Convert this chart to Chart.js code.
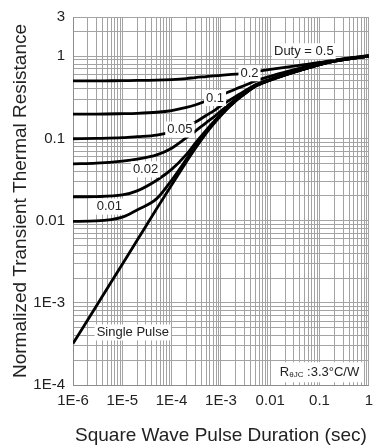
<!DOCTYPE html>
<html>
<head>
<meta charset="utf-8">
<script src="https://cdn.jsdelivr.net/npm/chart.js@4/dist/chart.umd.min.js"></script>
<style>
  html, body { margin: 0; padding: 0; background: #fff; }
  #wrap { width: 380px; height: 448px; }
</style>
</head>
<body>
<div id="wrap"><canvas id="c" width="380" height="448"></canvas></div>
<script>
// Pulse durations (s) at which each curve is sampled
const pulseTimes = [1e-6, 3e-6, 1e-5, 2e-5, 5e-5, 1e-4, 2e-4, 3e-4, 5e-4, 7e-4, 1e-3,
                    2e-3, 3e-3, 5e-3, 1e-2, 2e-2, 5e-2, 0.1, 0.2, 0.5, 1];

// Normalized transient thermal resistance for each duty cycle
const duty050 = [0.50, 0.50, 0.505, 0.507, 0.512, 0.52, 0.535, 0.55, 0.565, 0.575, 0.585,
                 0.605, 0.62, 0.65, 0.69, 0.73, 0.79, 0.84, 0.90, 0.97, 1.02];
const duty020 = [0.198, 0.198, 0.20, 0.202, 0.208, 0.218, 0.238, 0.255, 0.285, 0.31, 0.335,
                 0.40, 0.44, 0.50, 0.57, 0.64, 0.74, 0.82, 0.89, 0.96, 1.01];
const duty010 = [0.099, 0.10, 0.102, 0.105, 0.11, 0.12, 0.14, 0.157, 0.19, 0.215, 0.25,
                 0.325, 0.375, 0.45, 0.525, 0.60, 0.707, 0.795, 0.875, 0.953, 1.0];
const duty005 = [0.049, 0.05, 0.053, 0.056, 0.063, 0.076, 0.102, 0.122, 0.155, 0.18, 0.215,
                 0.30, 0.358, 0.44, 0.518, 0.596, 0.703, 0.792, 0.872, 0.952, 1.0];
const duty002 = [0.0195, 0.0196, 0.0205, 0.023, 0.031, 0.042, 0.064, 0.087, 0.125, 0.157, 0.198,
                 0.292, 0.352, 0.435, 0.514, 0.593, 0.701, 0.79, 0.87, 0.95, 1.0];
const duty001 = [0.0098, 0.0099, 0.011, 0.0135, 0.0185, 0.031, 0.056, 0.08, 0.12, 0.152, 0.194,
                 0.288, 0.348, 0.432, 0.512, 0.592, 0.70, 0.79, 0.87, 0.95, 1.0];
const singlePulse = [3.2e-4, 9.2e-4, 2.95e-3, 5.76e-3, 0.014, 0.0272, 0.052, 0.075, 0.115, 0.148, 0.19,
                     0.285, 0.345, 0.43, 0.51, 0.59, 0.70, 0.79, 0.87, 0.95, 1.0];

// Axis tick labels
const xTickValues = [1e-6, 1e-5, 1e-4, 1e-3, 1e-2, 0.1, 1];
const xTickLabels = ['1E-6', '1E-5', '1E-4', '1E-3', '0.01', '0.1', '1'];
const yTickValues = [1e-4, 1e-3, 1e-2, 0.1, 1, 3];
const yTickLabels = ['1E-4', '1E-3', '0.01', '0.1', '1', '3'];

// Curve captions: text and anchor (data coordinates)
const captionTexts = ['Duty = 0.5', '0.2', '0.1', '0.05', '0.02', '0.01', 'Single Pulse'];
const captionX = [0.048, 3.8e-3, 7.6e-4, 1.47e-4, 2.96e-5, 5.45e-6, 1.63e-5];
const captionY = [1.15, 0.62, 0.31, 0.128, 0.042, 0.0148, 4.36e-4];

// Thermal resistance note in the lower right corner
const noteX = 0.1;
const noteY = 1.43e-4;
const noteMain = 'R';
const noteSub = 'θJC';
const noteRest = ' :3.3°C/W';

const FONT = '"Liberation Sans", Arial, sans-serif';
const TEXT = '#222';
const GRID = '#a3a3a3';

function gridValues(fromExp, toExp, extra) {
  const out = [];
  for (let e = fromExp; e < toExp; e++) {
    for (let m = 1; m <= 9; m++) out.push(m * Math.pow(10, e));
  }
  out.push(Math.pow(10, toExp));
  (extra || []).forEach(v => out.push(v));
  return out;
}
const xGrid = gridValues(-6, 0);
const yGrid = gridValues(-4, 0, [2, 3]);

function labelFor(v, values, labels) {
  for (let i = 0; i < values.length; i++) {
    if (Math.abs(Math.log10(v) - Math.log10(values[i])) < 1e-6) return labels[i];
  }
  return '';
}

function series(values) {
  return pulseTimes.map((t, i) => ({ x: t, y: values[i] }));
}

const curveStyle = {
  borderColor: '#000',
  borderWidth: 2.8,
  pointRadius: 0,
  fill: false,
  cubicInterpolationMode: 'monotone'
};

const captionPlugin = {
  id: 'captions',
  afterDatasetsDraw(chart) {
    const ctx = chart.ctx;
    const xs = chart.scales.x, ys = chart.scales.y;
    ctx.save();
    ctx.font = '13px ' + FONT;
    ctx.textBaseline = 'middle';
    ctx.textAlign = 'center';
    captionTexts.forEach((txt, i) => {
      const px = xs.getPixelForValue(captionX[i]);
      const py = ys.getPixelForValue(captionY[i]);
      const w = ctx.measureText(txt).width;
      ctx.fillStyle = '#fff';
      ctx.fillRect(px - w / 2 - 2, py - 8, w + 4, 16);
      ctx.fillStyle = TEXT;
      ctx.fillText(txt, px, py);
    });

    // R(theta JC) note with subscript
    const nx = xs.getPixelForValue(noteX);
    const ny = ys.getPixelForValue(noteY);
    ctx.textAlign = 'left';
    ctx.font = '13px ' + FONT;
    const wMain = ctx.measureText(noteMain).width;
    const wRest = ctx.measureText(noteRest).width;
    ctx.font = '8px ' + FONT;
    const wSub = ctx.measureText(noteSub).width;
    const total = wMain + wSub + wRest;
    const left = nx - total / 2;
    ctx.fillStyle = '#fff';
    ctx.fillRect(left - 4, ny - 10, total + 8, 20);
    ctx.fillStyle = TEXT;
    ctx.font = '13px ' + FONT;
    ctx.fillText(noteMain, left, ny);
    ctx.font = '8px ' + FONT;
    ctx.fillText(noteSub, left + wMain, ny + 3);
    ctx.font = '13px ' + FONT;
    ctx.fillText(noteRest, left + wMain + wSub, ny);
    ctx.restore();
  }
};

new Chart(document.getElementById('c'), {
  type: 'line',
  data: {
    datasets: [
      Object.assign({ label: 'D=0.5', data: series(duty050) }, curveStyle),
      Object.assign({ label: 'D=0.2', data: series(duty020) }, curveStyle),
      Object.assign({ label: 'D=0.1', data: series(duty010) }, curveStyle),
      Object.assign({ label: 'D=0.05', data: series(duty005) }, curveStyle),
      Object.assign({ label: 'D=0.02', data: series(duty002) }, curveStyle),
      Object.assign({ label: 'D=0.01', data: series(duty001) }, curveStyle),
      Object.assign({ label: 'Single Pulse', data: series(singlePulse) }, curveStyle)
    ]
  },
  options: {
    responsive: false,
    animation: false,
    devicePixelRatio: 1,
    layout: { padding: { top: 13, right: 5, left: 0, bottom: 0 } },
    plugins: { legend: { display: false }, tooltip: { enabled: false } },
    scales: {
      x: {
        type: 'logarithmic',
        min: 1e-6,
        max: 1,
        afterBuildTicks: s => { s.ticks = xGrid.map(v => ({ value: v })); },
        afterFit: s => { s.height = 63; },
        ticks: {
          autoSkip: false,
          maxRotation: 0,
          padding: 7,
          color: TEXT,
          font: { family: FONT, size: 15 },
          callback: v => labelFor(v, xTickValues, xTickLabels)
        },
        grid: { color: GRID, lineWidth: 1, drawTicks: false },
        border: { color: '#8c8c8c' },
        title: {
          display: true,
          text: 'Square Wave Pulse Duration (sec)',
          color: TEXT,
          font: { family: FONT, size: 19 },
          padding: { top: 0, bottom: 1 }
        }
      },
      y: {
        type: 'logarithmic',
        min: 1e-4,
        max: 3,
        afterBuildTicks: s => { s.ticks = yGrid.map(v => ({ value: v })); },
        afterFit: s => { s.width = 73; },
        ticks: {
          autoSkip: false,
          padding: 8,
          color: TEXT,
          font: { family: FONT, size: 15 },
          callback: v => labelFor(v, yTickValues, yTickLabels)
        },
        grid: { color: GRID, lineWidth: 1, drawTicks: false },
        border: { color: '#8c8c8c' },
        title: {
          display: true,
          text: 'Normalized Transient Thermal Resistance',
          color: TEXT,
          font: { family: FONT, size: 19 },
          padding: { top: 9, bottom: 0 }
        }
      }
    }
  },
  plugins: [captionPlugin]
});
</script>
</body>
</html>
